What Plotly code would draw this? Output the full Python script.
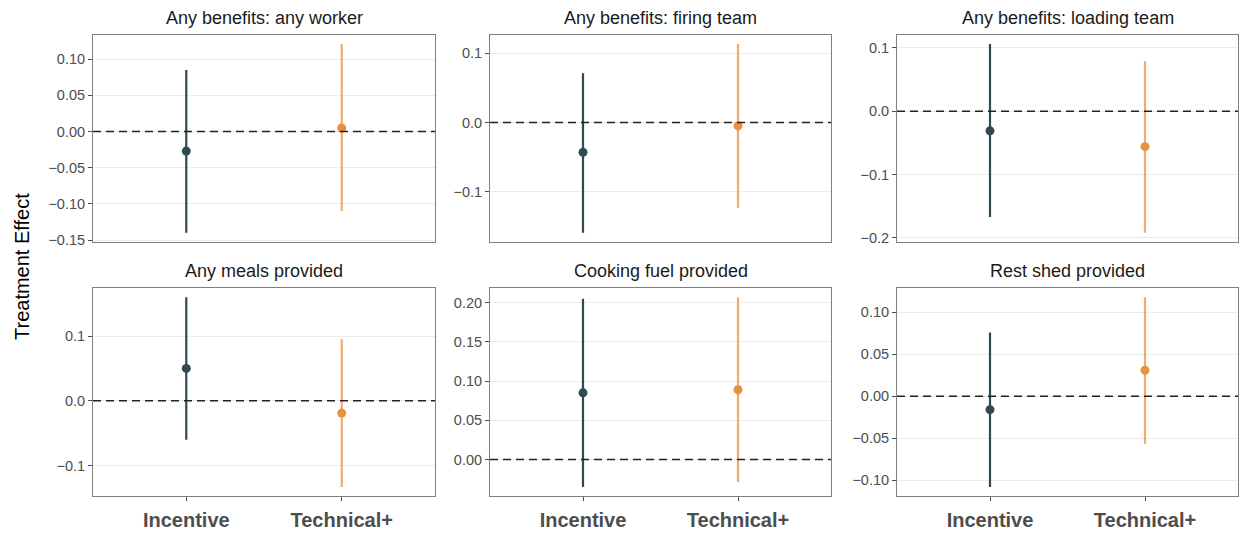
import plotly.graph_objects as go

# ---- data ----
panels = ["Any benefits: any worker", "Any benefits: firing team", "Any benefits: loading team",
          "Any meals provided", "Cooking fuel provided", "Rest shed provided"]
arms = ["Incentive", "Technical+"]

est_incentive = [-0.027, -0.043, -0.031, 0.050, 0.085, -0.016]
lo_incentive = [-0.140, -0.159, -0.167, -0.060, -0.035, -0.108]
hi_incentive = [0.085, 0.071, 0.106, 0.160, 0.205, 0.076]

est_technical = [0.005, -0.005, -0.056, -0.019, 0.089, 0.031]
lo_technical = [-0.110, -0.123, -0.192, -0.133, -0.029, -0.057]
hi_technical = [0.121, 0.113, 0.079, 0.095, 0.207, 0.118]

tick_vals = [
    [-0.15, -0.10, -0.05, 0.00, 0.05, 0.10],
    [-0.1, 0.0, 0.1],
    [-0.2, -0.1, 0.0, 0.1],
    [-0.1, 0.0, 0.1],
    [0.00, 0.05, 0.10, 0.15, 0.20],
    [-0.10, -0.05, 0.00, 0.05, 0.10],
]
tick_formats = [".2f", ".1f", ".1f", ".1f", ".2f", ".2f"]

# ---- style ----
W, H = 1241, 536
C_INC = "#2F4A52"
C_TEC = "#E8913E"
C_TEC_LINE = "rgba(232,145,62,0.75)"
FONT = "Liberation Sans, Arial, Helvetica, sans-serif"

x_px = [(93, 435), (490, 831), (897, 1238)]
y_px = [(35, 245), (291, 502)]


def xd(a, b):
    return [a / W, b / W]


def yd(t, b):
    return [(H - b) / H, (H - t) / H]


fig = go.Figure()
annotations = []
shapes = []

for i, name in enumerate(panels):
    r, c = divmod(i, 3)
    n = i + 1
    xa = "x" if n == 1 else f"x{n}"
    ya = "y" if n == 1 else f"y{n}"
    xk = "xaxis" if n == 1 else f"xaxis{n}"
    yk = "yaxis" if n == 1 else f"yaxis{n}"

    series = [
        (arms[0], est_incentive[i], lo_incentive[i], hi_incentive[i], C_INC, C_INC),
        (arms[1], est_technical[i], lo_technical[i], hi_technical[i], C_TEC, C_TEC_LINE),
    ]
    for arm, e, lo, hi, col, lcol in series:
        fig.add_trace(go.Scatter(
            x=[arm], y=[e], mode="markers", xaxis=xa, yaxis=ya, showlegend=False,
            marker=dict(color=col, size=9),
            error_y=dict(type="data", symmetric=False, array=[hi - e], arrayminus=[e - lo],
                         width=0, thickness=2.2, color=lcol),
        ))

    all_vals = [lo_incentive[i], hi_incentive[i], lo_technical[i], hi_technical[i], 0.0]
    mn, mx = min(all_vals), max(all_vals)
    pad = 0.05 * (mx - mn)
    yr = [mn - pad, mx + pad]

    fig.update_layout(**{
        xk: dict(domain=xd(*x_px[c]), anchor=ya, type="category",
                 categoryorder="array", categoryarray=arms, range=[-0.6, 1.6],
                 showgrid=False, zeroline=False, showline=True, mirror=True,
                 linecolor="#7F7F7F", linewidth=1,
                 ticks="outside" if r == 1 else "", ticklen=4, tickcolor="#4D4D4D",
                 showticklabels=(r == 1), ticklabelstandoff=2,
                 tickfont=dict(family=FONT, size=20, color="#4D4D4D", weight="bold")),
        yk: dict(domain=yd(*y_px[r]), anchor=xa, range=yr,
                 tickvals=tick_vals[i], tickformat=tick_formats[i],
                 showgrid=True, gridcolor="#EBEBEB", gridwidth=1, zeroline=False,
                 showline=True, mirror=True, linecolor="#7F7F7F", linewidth=1,
                 ticks="outside", ticklen=4, tickcolor="#4D4D4D",
                 tickfont=dict(family=FONT, size=14.5, color="#4D4D4D")),
    })

    shapes.append(dict(type="line", xref=f"{xa} domain", yref=ya, x0=0, x1=1, y0=0, y1=0,
                       line=dict(color="#222222", width=1.6, dash="8px,5px"), layer="above"))

    cx = (x_px[c][0] + x_px[c][1]) / 2 / W
    ty = (H - (18 if r == 0 else 274)) / H
    annotations.append(dict(text=name, x=cx, y=ty, xref="paper", yref="paper",
                            xanchor="center", yanchor="middle", showarrow=False,
                            font=dict(family=FONT, size=18, color="#1A1A1A")))

annotations.append(dict(text="Treatment Effect", x=22 / W, y=(H - 270) / H,
                        xref="paper", yref="paper", textangle=-90,
                        xanchor="center", yanchor="middle", showarrow=False,
                        font=dict(family=FONT, size=20, color="#000000")))

fig.update_layout(width=W, height=H, margin=dict(l=0, r=0, t=0, b=0),
                  paper_bgcolor="white", plot_bgcolor="white",
                  annotations=annotations, shapes=shapes, showlegend=False)

fig.write_html("out.html")
